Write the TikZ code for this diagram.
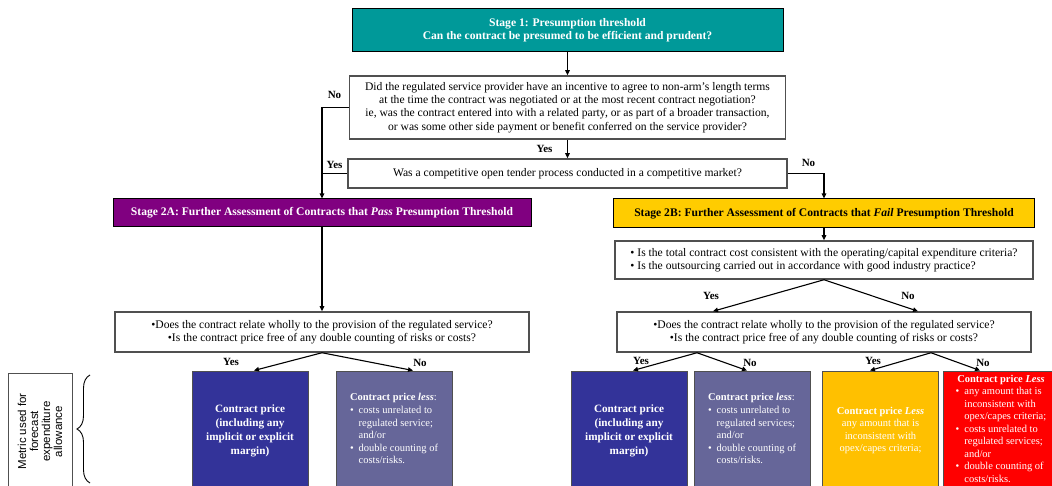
\documentclass[tikz,border=0pt]{standalone}
\usepackage{fontspec}
\setmainfont{Liberation Serif}
\setsansfont{Liberation Sans}
\usepackage{tikz}
\usetikzlibrary{arrows.meta,positioning,decorations.pathreplacing}
\definecolor{stageone}{RGB}{0,153,153}
\definecolor{passcolor}{RGB}{128,0,128}
\definecolor{failcolor}{RGB}{255,204,0}
\definecolor{pricecolor}{RGB}{51,51,153}
\definecolor{lesscolor}{RGB}{102,102,153}
\definecolor{opexcolor}{RGB}{255,192,0}
\definecolor{redcolor}{RGB}{255,0,0}
\definecolor{framecolor}{RGB}{80,80,80}
\newcommand{\blist}[1]{\begin{tabular}{@{}l@{\hspace{5pt}}l@{}}#1\end{tabular}}

\begin{document}
\begin{tikzpicture}[
  x=1pt,y=-1pt,
  >={Triangle[length=5pt,width=4.5pt]},
  question/.style={rectangle,draw=framecolor,line width=1.5pt,fill=white,align=center,
                   font=\fontsize{11.6}{13.3}\selectfont,inner sep=0pt},
  stage/.style={rectangle,draw=black,line width=1pt,align=center,
                font=\fontsize{11.6}{13.3}\selectfont\bfseries,inner sep=0pt},
  metric/.style={rectangle,draw=framecolor,line width=1pt,text=white,align=center,
                 font=\fontsize{10.5}{12.5}\selectfont,minimum width=116pt,minimum height=119pt,inner sep=0pt},
  pricetext/.style={font=\fontsize{11.2}{14}\selectfont\bfseries},
  arc/.style={->,line width=1.1pt,black},
  lbl/.style={font=\fontsize{11}{12}\selectfont\bfseries,inner sep=0pt}
]
\useasboundingbox (0,0) rectangle (1052,486);
%% Stage 1
\node[stage,fill=stageone,text=white,minimum width=431pt,minimum height=43pt] (S1) at (567.5,30.5)
  {Stage 1: Presumption threshold\\Can the contract be presumed to be efficient and prudent?};
\node[question,minimum width=436pt,minimum height=63pt] (Q1) at (567.5,107.5)
  {Did the regulated service provider have an incentive to agree to non-arm’s length terms\\
   at the time the contract was negotiated or at the most recent contract negotiation?\\
   ie, was the contract entered into with a related party, or as part of a broader transaction,\\
   or was some other side payment or benefit conferred on the service provider?};
\node[question,minimum width=439pt,minimum height=29pt] (Q2) at (567.5,173.5)
  {Was a competitive open tender process conducted in a competitive market?};
%% Stage 2A / 2B
\node[stage,fill=passcolor,text=white,minimum width=418pt,minimum height=28pt] (S2A) at (322,213)
  {Stage 2A: Further Assessment of Contracts that \textit{Pass} Presumption Threshold};
\node[stage,fill=failcolor,minimum width=421pt,minimum height=29pt] (S2B) at (824,213.5)
  {Stage 2B: Further Assessment of Contracts that \textit{Fail} Presumption Threshold};
\node[question,minimum width=418pt,minimum height=38pt,align=left] (Q3) at (824,260)
  {\textbullet\ Is the total contract cost consistent with the operating/capital expenditure criteria?\\
   \textbullet\ Is the outsourcing carried out in accordance with good industry practice?};
\node[question,minimum width=414pt,minimum height=40pt] (QL) at (322,332)
  {\textbullet Does the contract relate wholly to the provision of the regulated service?\\
   \textbullet Is the contract price free of any double counting of risks or costs?};
\node[question,minimum width=414pt,minimum height=40pt] (QR) at (824,332)
  {\textbullet Does the contract relate wholly to the provision of the regulated service?\\
   \textbullet Is the contract price free of any double counting of risks or costs?};
%% Metric boxes
\node[metric,pricetext,fill=pricecolor] (BL1) at (250,430.5)
  {Contract price\\(including any\\implicit or explicit\\margin)};
\node[metric,fill=lesscolor,align=left] (BL2) at (394,430.5)
  {\textbf{Contract price \textit{less}}:\\[1pt]
   \blist{\textbullet & costs unrelated to\\ & regulated service;\\ & and/or\\
          \textbullet & double counting of\\ & costs/risks.}};
\node[metric,pricetext,fill=pricecolor] (BR1) at (629,430.5)
  {Contract price\\(including any\\implicit or explicit\\margin)};
\node[metric,fill=lesscolor,align=left] (BR2) at (752,430.5)
  {\textbf{Contract price \textit{less}}:\\[1pt]
   \blist{\textbullet & costs unrelated to\\ & regulated services;\\ & and/or\\
          \textbullet & double counting of\\ & costs/risks.}};
\node[metric,fill=opexcolor] (BR3) at (880.5,430.5)
  {\textbf{Contract price \textit{Less}}\\any amount that is\\inconsistent with\\opex/capes criteria;};
\node[metric,fill=redcolor] (BR4) at (1001,430.5)
  {\textbf{Contract price \textit{Less}}\\
   \blist{\textbullet & any amount that is\\ & inconsistent with\\ & opex/capes criteria;\\
          \textbullet & costs unrelated to\\ & regulated services;\\ & and/or\\
          \textbullet & double counting of\\ & costs/risks.}};
%% Metric label
\node[rectangle,draw=framecolor,line width=1pt,rotate=90,minimum width=117pt,minimum height=64pt,
      inner sep=0pt,align=center,font=\sffamily\fontsize{11.5}{12}\selectfont] (M) at (40,431.5)
  {Metric used for\\forecast\\expenditure\\allowance};
\draw[line width=0.9pt,decorate,decoration={brace,amplitude=13pt}] (90,483) -- (90,375);
%% Arcs
\draw[arc] (S1) -- (Q1);
\draw[arc] (Q1) -- node[lbl,xshift=-23pt]{Yes} (Q2);
\draw[arc] (Q1.west) -| node[lbl,pos=0.5,xshift=12.5pt,yshift=13pt]{No} (S2A.north);
\draw[line width=1.1pt] (Q2.west) -- node[lbl,pos=1,xshift=12.5pt,yshift=9pt]{Yes} (Q2.west -| S2A.north);
\draw[arc] (Q2.east) -| node[lbl,pos=0.5,xshift=-15.5pt,yshift=10.5pt]{No} (S2B.north);
\draw[arc] (S2A) -- (QL);
\draw[arc] (S2B) -- (Q3);
\draw[arc] (Q3.south) -- node[lbl,pos=1,xshift=-2pt,yshift=15pt]{Yes} ([xshift=-111pt]QR.north);
\draw[arc] (Q3.south) -- node[lbl,pos=1,xshift=-10pt,yshift=15pt]{No} ([xshift=94pt]QR.north);
\draw[arc] (QL.south) -- node[lbl,pos=1,xshift=-23pt,yshift=9pt]{Yes} ([xshift=4pt]BL1.north);
\draw[arc] (QL.south) -- node[lbl,pos=1,xshift=7pt,yshift=8pt]{No} ([xshift=19pt]BL2.north);
\draw[arc] ([xshift=-127pt]QR.south) -- node[lbl,pos=1,xshift=8pt,yshift=10pt]{Yes} ([xshift=4pt]BR1.north);
\draw[arc] ([xshift=-127pt]QR.south) -- node[lbl,pos=1,xshift=3pt,yshift=8pt]{No} ([xshift=-5pt]BR2.north);
\draw[arc] ([xshift=107pt]QR.south) -- node[lbl,pos=1,xshift=3pt,yshift=10pt]{Yes} ([xshift=-10.5pt]BR3.north);
\draw[arc] ([xshift=107pt]QR.south) -- node[lbl,pos=1,xshift=3pt,yshift=8pt]{No} ([xshift=-21pt]BR4.north);
\end{tikzpicture}
\end{document}
